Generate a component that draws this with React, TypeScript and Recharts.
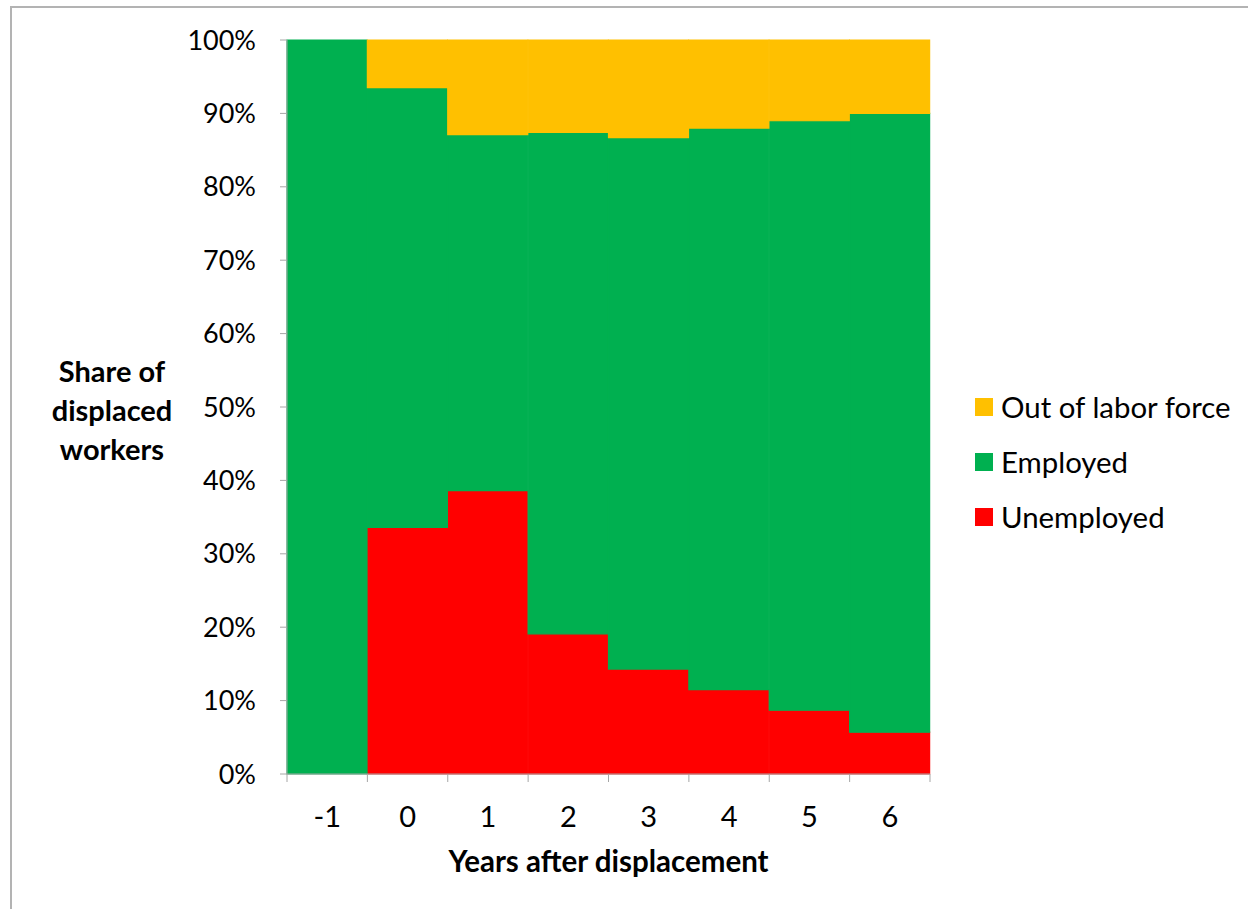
import React from 'react';
import { BarChart, Bar, XAxis, YAxis, Legend } from 'recharts';

// years after displacement
const years = [-1, 0, 1, 2, 3, 4, 5, 6];
// shares in percent
const unemployed = [0, 33.6, 38.6, 19.1, 14.3, 11.5, 8.7, 5.7];
const employed = [100, 59.9, 48.5, 68.3, 72.4, 76.5, 80.3, 84.3];
const outOfLaborForce = [0, 6.5, 12.9, 12.6, 13.3, 12.0, 11.0, 10.0];
const yTicks = [0, 10, 20, 30, 40, 50, 60, 70, 80, 90, 100];
const legendOrder = ['Out of labor force', 'Employed', 'Unemployed'];

const data = years.map((y, i) => ({
    year: String(y),
    unemployed: unemployed[i],
    employed: employed[i],
    out: outOfLaborForce[i],
}));

const FONT = 'Lato, "Noto Sans", sans-serif';
const GREY = '#a6a6a6';

// label in the middle of the band, tick marks on the band edges
const XTick = (props: any) => {
    const { x, y, payload, index, visibleTicksCount } = props;
    const half = payload.offset || 0;
    const last = index === visibleTicksCount - 1;
    return (
        <g>
            <line x1={x - half} x2={x - half} y1={y} y2={y + 8} stroke={GREY} />
            {last && <line x1={x + half} x2={x + half} y1={y} y2={y + 8} stroke={GREY} />}
            <text x={x} y={y} dy={53} textAnchor="middle" fontFamily={FONT} fontSize={29} fill="#000">
                {payload.value}
            </text>
        </g>
    );
};

const YTitle = (props: any) => {
    const { viewBox } = props;
    const cy = viewBox.y + viewBox.height / 2;
    const x = viewBox.x + 112;
    return (
        <text x={x} y={cy} textAnchor="middle" fontFamily={FONT} fontWeight="bold" fontSize={29} fill="#000">
            <tspan x={x} dy={-25}>Share of</tspan>
            <tspan x={x} dy={39}>displaced</tspan>
            <tspan x={x} dy={39}>workers</tspan>
        </text>
    );
};

const XTitle = (props: any) => {
    const { viewBox } = props;
    return (
        <text
            x={viewBox.x + viewBox.width / 2}
            y={viewBox.y + 98}
            textAnchor="middle"
            fontFamily={FONT}
            fontWeight="bold"
            fontSize={29.5}
            fill="#000"
        >
            Years after displacement
        </text>
    );
};

const renderLegend = (props: any) => {
    const items = [...(props.payload || [])].sort(
        (a: any, b: any) => legendOrder.indexOf(a.value) - legendOrder.indexOf(b.value)
    );
    return (
        <div style={{ fontFamily: FONT, fontSize: 29.4, color: '#000' }}>
            {items.map((p: any) => (
                <div key={p.value} style={{ height: 55, display: 'flex', alignItems: 'center' }}>
                    <span style={{ width: 18, height: 18, background: p.color, marginRight: 8, display: 'inline-block' }} />
                    <span>{p.value}</span>
                </div>
            ))}
        </div>
    );
};

export default function App() {
    return (
        <div style={{ position: 'absolute', left: 0, top: 0, width: 1248, height: 909, overflow: 'hidden', background: '#fff' }}>
            <div
                style={{
                    position: 'absolute',
                    left: 10,
                    top: 6,
                    width: 1400,
                    height: 1200,
                    borderLeft: '2px solid #b3b3b3',
                    borderTop: '2px solid #b3b3b3',
                }}
            />
            <div style={{ position: 'absolute', left: 0, top: 0 }}>
                <BarChart
                    width={1248}
                    height={909}
                    data={data}
                    margin={{ top: 40, right: 48, bottom: 0, left: 0 }}
                    barCategoryGap={0}
                    barGap={0}
                >
                    <XAxis
                        dataKey="year"
                        height={135}
                        tickSize={0}
                        tickMargin={0}
                        tickLine={false}
                        axisLine={{ stroke: GREY }}
                        tick={<XTick />}
                        interval={0}
                        label={XTitle}
                    />
                    <YAxis
                        width={287}
                        domain={[0, 100]}
                        ticks={yTicks}
                        interval={0}
                        tickFormatter={(v) => `${v}%`}
                        tickSize={7}
                        tickMargin={24}
                        tickLine={{ stroke: GREY }}
                        axisLine={{ stroke: GREY }}
                        tick={{ fontFamily: FONT, fontSize: 27, fill: '#000' }}
                        label={YTitle}
                    />
                    <Legend
                        content={renderLegend}
                        layout="vertical"
                        align="right"
                        verticalAlign="middle"
                        wrapperStyle={{ left: 975, top: 379, width: 270 }}
                    />
                    <Bar dataKey="unemployed" name="Unemployed" stackId="a" fill="#FF0000" stroke="#FF0000" strokeWidth={1.2} isAnimationActive={false} />
                    <Bar dataKey="employed" name="Employed" stackId="a" fill="#00B050" stroke="#00B050" strokeWidth={1.2} isAnimationActive={false} />
                    <Bar dataKey="out" name="Out of labor force" stackId="a" fill="#FFC000" stroke="#FFC000" strokeWidth={1.2} isAnimationActive={false} />
                </BarChart>
            </div>
        </div>
    );
}
